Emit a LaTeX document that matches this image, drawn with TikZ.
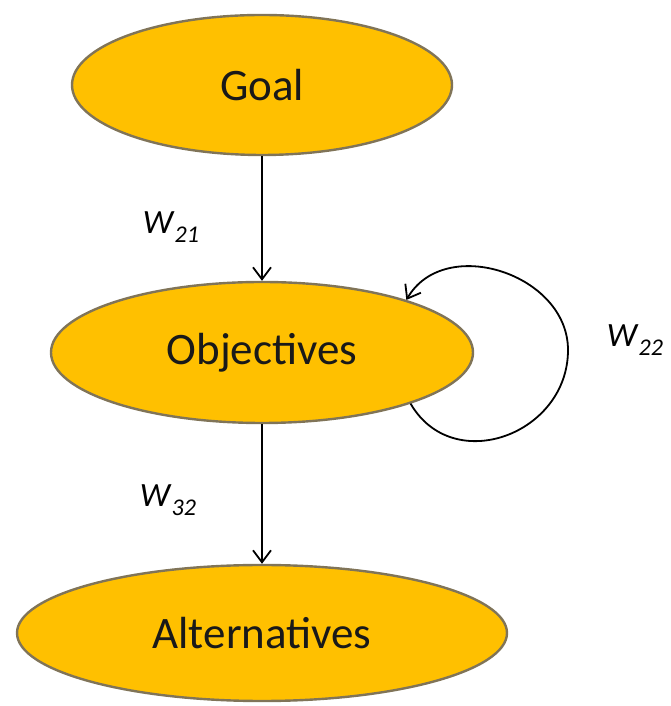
\documentclass[tikz,border=0pt]{standalone}
\usepackage{fontspec}
\setmainfont{Carlito}
\usetikzlibrary{shapes.geometric,arrows.meta}

\definecolor{LevelFill}{RGB}{255,192,0}
\definecolor{LevelDraw}{RGB}{128,116,88}

\newcommand{\Wgt}[1]{\textit{W}\raisebox{-9pt}{\fontsize{24}{24}\selectfont\textit{#1}}}

\tikzset{
Level/.style={draw=LevelDraw, fill=LevelFill, ellipse, inner
        sep=0pt, line width=2.4pt, text=black!90, font=\fontsize{45}{54}\selectfont},
LevelLine/.style={arrows={-Straight Barb[length=12pt,width=18pt]},draw=black,line width=1.8pt},
WeightLabel/.style={inner sep=0pt, font=\fontsize{34}{40}\selectfont},
}

\begin{document}
\begin{tikzpicture}[x=1pt,y=1pt]
	\useasboundingbox (0,0) rectangle (670,706);

	\node[Level, minimum width=380pt, minimum height=140pt] (goal) at (262,621) {Goal};
	\node[Level, minimum width=422pt, minimum height=141pt] (obj) at (262,353.5) {Objectives};
	\node[Level, minimum width=490pt, minimum height=136pt] (alt) at (262,73) {Alternatives};

	\draw[LevelLine] (goal) -- (obj);
	\draw[LevelLine] (obj) -- (alt);

	% self loop on the objectives
	\coordinate (loopR) at (568,356);
	\draw[LevelLine] (obj.-19) to[out=-60,in=-90,looseness=1.3] (loopR)
		to[out=90,in=60,looseness=1.15] (obj.20);

	\node[WeightLabel] (w21) at (171,479) {\Wgt{21}};
	\node[WeightLabel] (w22) at (635,366) {\Wgt{22}};
	\node[WeightLabel] (w32) at (168,206) {\Wgt{32}};
\end{tikzpicture}
\end{document}
